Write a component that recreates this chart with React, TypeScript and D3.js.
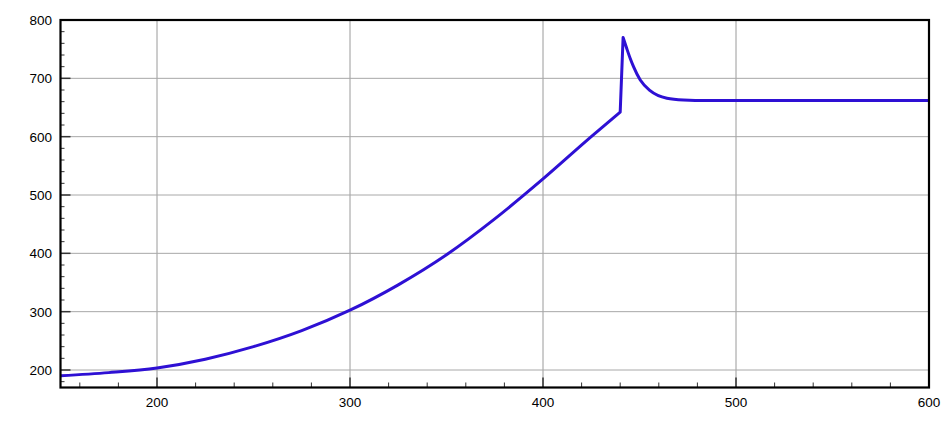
import React from "react";
import * as d3 from "d3";

const xValues = [150, 175, 200, 225, 250, 275, 300, 325, 350, 375, 400, 425, 440, 441.5, 443.4, 445.2, 446.9, 450.4, 455.5, 464.2, 472.8, 485, 500, 550, 600];
const yValues = [190, 195.5, 203.5, 218.5, 240, 267.5, 302.5, 346, 397.5, 459, 527.5, 600, 642, 770, 751, 734, 720, 697, 679, 666, 663, 662, 662, 662, 662];
const xTickLabels = [200, 300, 400, 500, 600];
const yTickLabels = [200, 300, 400, 500, 600, 700, 800];
const jumpAt = 440;

const W = 949;
const H = 428;
const left = 60.5;
const right = 929;
const top = 20;
const bottom = 387.5;

export default function App() {
  const x = d3.scaleLinear().domain([150, 600]).range([left, right]);
  const y = d3.scaleLinear().domain([170, 800]).range([bottom, top]);
  const data = xValues.map((v, i) => [v, yValues[i]] as [number, number]);
  const rise = data.filter((d) => d[0] <= jumpAt);
  const decay = data.filter((d) => d[0] > jumpAt);
  const line = d3
    .line<[number, number]>()
    .x((d) => x(d[0]))
    .y((d) => y(d[1]))
    .curve(d3.curveMonotoneX);
  const pathD = (line(rise) || "") + (line(decay) || "").replace(/^M/, "L");

  const xMinor = d3.range(160, 600, 20).filter((v) => v % 100 !== 0);
  const yMinor = d3.range(180, 800, 20).filter((v) => v % 100 !== 0);
  const font = "'Liberation Sans', Arial, Helvetica, sans-serif";

  return (
    <svg width={W} height={H} style={{ position: "absolute", left: 0, top: 0, background: "#fff" }}>
      {xTickLabels.filter((v) => v < 600).map((v) => (
        <line key={"gx" + v} x1={x(v)} x2={x(v)} y1={top} y2={bottom} stroke="#9a9a9a" strokeWidth={1} />
      ))}
      {yTickLabels.filter((v) => v < 800).map((v) => (
        <line key={"gy" + v} x1={left} x2={right} y1={y(v)} y2={y(v)} stroke="#a8a8a8" strokeWidth={1} />
      ))}
      {xMinor.map((v) => (
        <line key={"mx" + v} x1={x(v)} x2={x(v)} y1={bottom} y2={bottom - 5} stroke="#333" strokeWidth={1} />
      ))}
      {yMinor.map((v) => (
        <line key={"my" + v} x1={left} x2={left + 4} y1={y(v)} y2={y(v)} stroke="#333" strokeWidth={1} />
      ))}
      {xTickLabels.filter((v) => v < 600).map((v) => (
        <line key={"tx" + v} x1={x(v)} x2={x(v)} y1={bottom} y2={bottom - 10} stroke="#333" strokeWidth={1.5} />
      ))}
      {yTickLabels.filter((v) => v < 800).map((v) => (
        <line key={"ty" + v} x1={left} x2={left + 10} y1={y(v)} y2={y(v)} stroke="#333" strokeWidth={1.5} />
      ))}
      <path d={pathD} fill="none" stroke="#2e10d4" strokeWidth={3} strokeLinejoin="round" />
      <rect x={left} y={top} width={right - left} height={bottom - top} fill="none" stroke="#000" strokeWidth={2.2} />
      {xTickLabels.map((v) => (
        <text key={"lx" + v} x={x(v)} y={407} textAnchor="middle" fontFamily={font} fontSize={13.5} fill="#000">
          {v}
        </text>
      ))}
      {yTickLabels.map((v) => (
        <text key={"ly" + v} x={52} y={y(v) + 5} textAnchor="end" fontFamily={font} fontSize={13.5} fill="#000">
          {v}
        </text>
      ))}
    </svg>
  );
}
